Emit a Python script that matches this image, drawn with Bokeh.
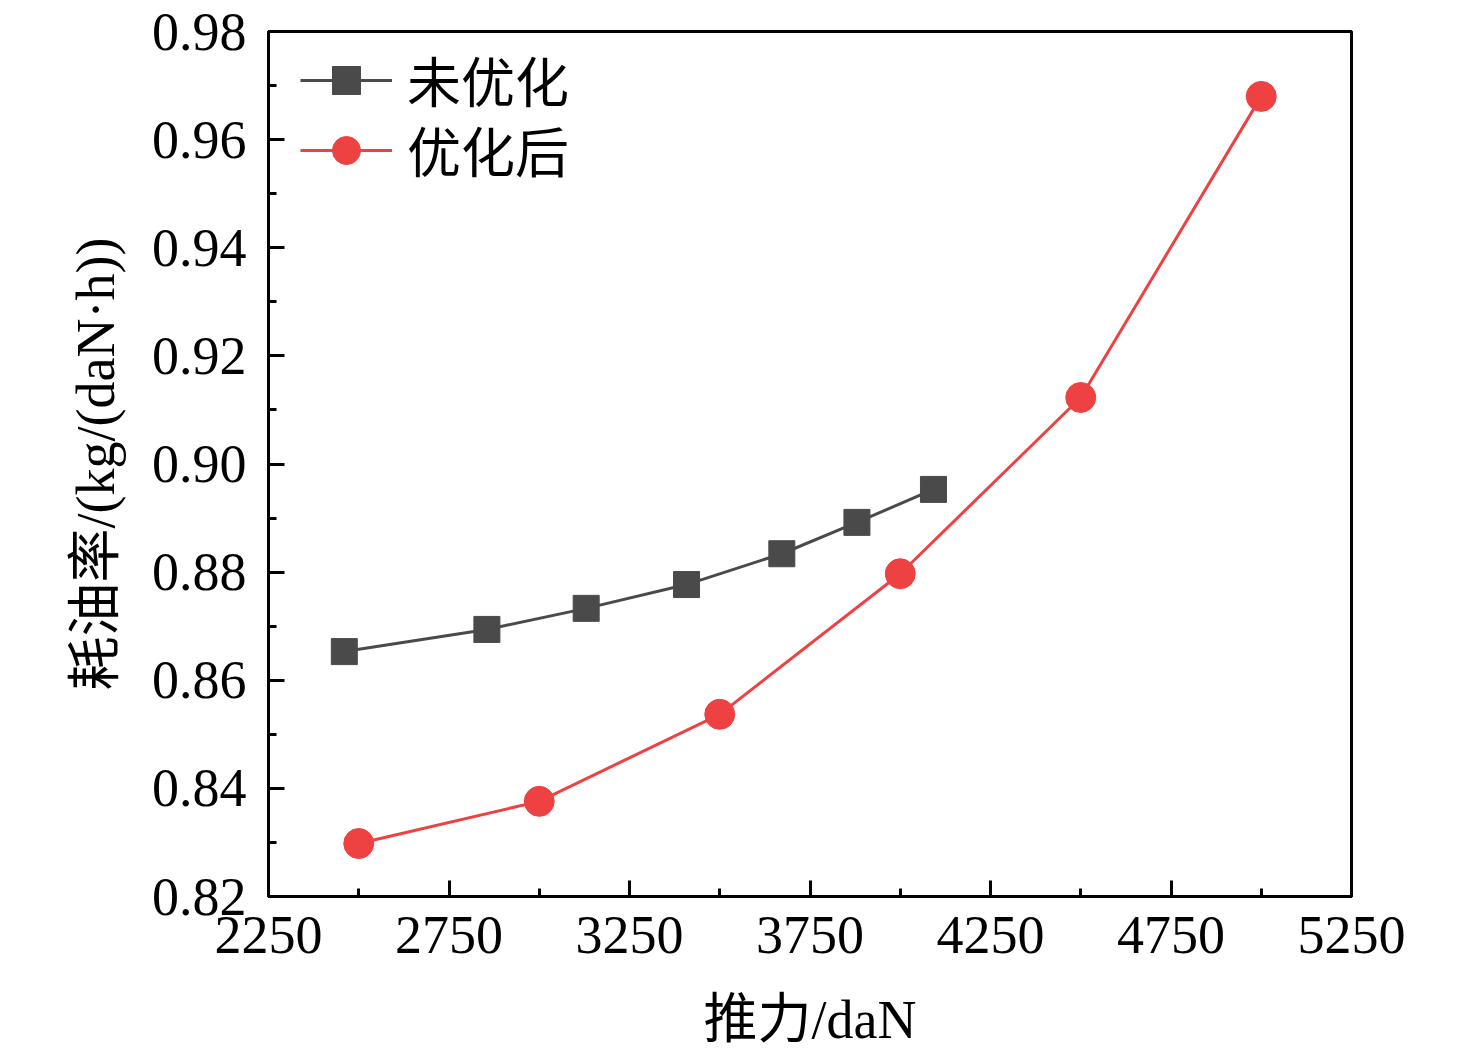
from bokeh.plotting import figure
from bokeh.models import FixedTicker, NumeralTickFormatter, Range1d, Legend, LegendItem
from bokeh.embed import file_html
from bokeh.resources import INLINE

# data
thrust_before = [2460, 2855, 3130, 3408, 3672, 3880, 4092]
sfc_before = [0.8653, 0.8694, 0.8733, 0.8777, 0.8834, 0.8892, 0.8953]
thrust_after = [2500, 3000, 3500, 4000, 4500, 5000]
sfc_after = [0.8298, 0.8376, 0.8537, 0.8797, 0.9123, 0.9680]
x_ticks = [2250, 2750, 3250, 3750, 4250, 4750, 5250]
x_minor = [2500, 3000, 3500, 4000, 4500, 5000]
y_ticks = [0.82, 0.84, 0.86, 0.88, 0.90, 0.92, 0.94, 0.96, 0.98]
y_minor = [0.83, 0.85, 0.87, 0.89, 0.91, 0.93, 0.95, 0.97]
label_before = "未优化"
label_after = "优化后"
x_label = "推力/daN"
y_label = "耗油率/(kg/(daN·h))"

FONT = "Liberation Serif, Noto Sans CJK SC"
GRAY = "#4a4a4a"
RED = "#ee4242"

p = figure(output_backend="svg", toolbar_location=None,
           frame_width=1083, frame_height=865,
           min_border_left=268, min_border_right=117,
           min_border_top=31, min_border_bottom=155,
           x_range=Range1d(2250, 5250), y_range=Range1d(0.82, 0.98))
p.grid.visible = False
p.background_fill_color = "white"
p.border_fill_color = "white"
p.outline_line_color = "black"
p.outline_line_width = 3

p.xaxis.ticker = FixedTicker(ticks=x_ticks, minor_ticks=x_minor)
p.yaxis.ticker = FixedTicker(ticks=y_ticks, minor_ticks=y_minor)
p.yaxis.formatter = NumeralTickFormatter(format="0.00")
for ax in (p.xaxis, p.yaxis):
    ax.axis_line_width = 3
    ax.axis_line_color = "black"
    ax.major_tick_line_width = 3
    ax.minor_tick_line_width = 3
    ax.major_tick_in = 16
    ax.major_tick_out = 0
    ax.minor_tick_in = 8
    ax.minor_tick_out = 0
    ax.major_label_text_font = FONT
    ax.major_label_text_font_size = "54px"
    ax.major_label_text_color = "black"
    ax.axis_label_text_font = FONT
    ax.axis_label_text_font_size = "54px"
    ax.axis_label_text_font_style = "normal"
    ax.axis_label_text_color = "black"
p.xaxis.axis_label = x_label
p.yaxis.axis_label = y_label
p.xaxis.major_label_standoff = 20
p.yaxis.major_label_standoff = 22
p.xaxis.axis_label_standoff = 34
p.yaxis.axis_label_standoff = 23

l1 = p.line(thrust_before, sfc_before, line_color=GRAY, line_width=3)
m1 = p.scatter(thrust_before, sfc_before, marker="square", size=26,
               fill_color=GRAY, line_color=GRAY)
l2 = p.line(thrust_after, sfc_after, line_color=RED, line_width=3)
m2 = p.scatter(thrust_after, sfc_after, marker="circle", size=30,
               fill_color=RED, line_color=RED)

common = dict(border_line_color=None, background_fill_alpha=0, margin=0,
              padding=0, glyph_width=92, glyph_height=70, spacing=0,
              label_standoff=15, label_text_font=FONT,
              label_text_font_size="54px", label_text_color="black")
legend1 = Legend(items=[LegendItem(label=label_before, renderers=[l1, m1])],
                 location=(32, 777), **common)
legend2 = Legend(items=[LegendItem(label=label_after, renderers=[l2, m2])],
                 location=(32, 707), **common)
p.add_layout(legend1)
p.add_layout(legend2)

open("out.html", "w").write(file_html(p, INLINE))
